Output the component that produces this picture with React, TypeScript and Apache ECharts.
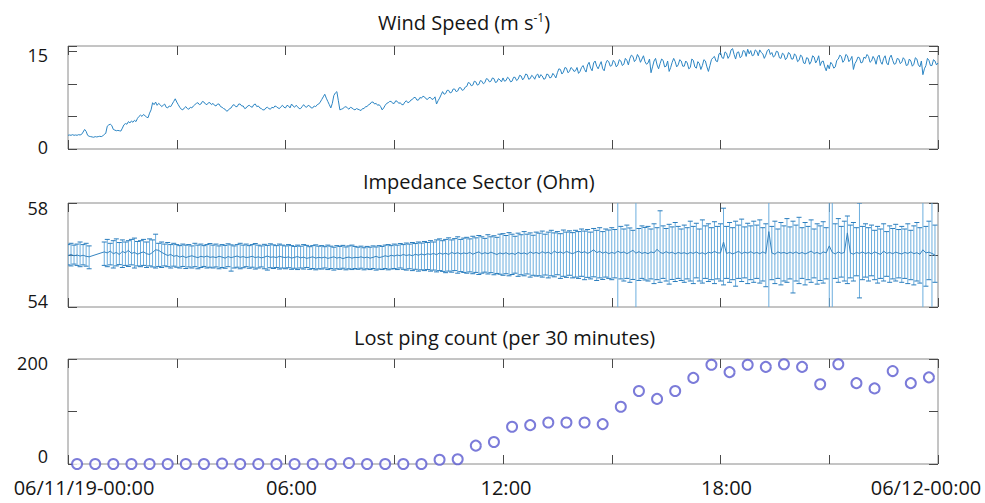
import React, { useEffect, useRef } from 'react';
import * as echarts from 'echarts';

const FONT = '"Open Sans", "Noto Sans", sans-serif';

// Panel titles
const panelTitles = ['Wind Speed (m s{sup|-1})', 'Impedance Sector (Ohm)', 'Lost ping count (per 30 minutes)'];

// x-axis tick labels (hours since 06/11/19 00:00)
const xLabelHours = [0, 6, 12, 18, 24];
const xLabelTexts = ['06/11/19-00:00', '06:00', '12:00', '18:00', '06/12-00:00'];

// y-axis tick labels shown per panel
const windYLabels = [0, 15];
const impYLabels = [54, 58];
const pingYLabels = [0, 200];

// Wind speed, m/s, every 2.5 minutes from 00:00 to 24:00
const windSpeed = [
  2.1, 2.15, 2.1, 2.2, 2.1, 2.15, 2.1, 2.2, 2.15, 2.25, 2.6, 3.0, 2.7, 2.1, 1.95, 1.9, 1.85, 1.8, 1.9, 1.85, 1.9, 1.95, 1.9, 2.0,
  2.25, 2.4, 3.5, 3.7, 3.8, 3.6, 3.0, 2.9, 2.8, 2.85, 2.8, 2.75, 3.2, 3.7, 3.9, 3.8, 4.2, 4.0, 4.3, 4.1, 4.4, 4.2, 4.7, 5.0,
  5.2, 5.0, 5.3, 5.1, 4.9, 4.8, 5.5, 6.0, 7.1, 6.8, 7.2, 6.7, 7.0, 6.8, 6.5, 6.7, 6.9, 6.4, 6.3, 6.6, 6.5, 6.9, 7.3, 7.7,
  7.2, 6.8, 6.4, 6.1, 6.0, 6.3, 6.5, 6.2, 6.1, 6.4, 6.3, 6.6, 6.8, 7.0, 7.1, 6.8, 6.9, 7.3, 7.2, 6.9, 6.8, 7.1, 7.1, 6.8,
  7.0, 6.7, 6.6, 6.9, 6.9, 6.5, 6.4, 6.2, 6.1, 5.8, 5.9, 6.2, 6.3, 6.7, 6.8, 6.5, 6.5, 6.9, 6.9, 6.6, 6.6, 6.2, 6.3, 6.6,
  6.7, 6.5, 6.4, 6.8, 6.9, 6.5, 6.6, 6.3, 6.2, 6.0, 6.0, 6.3, 6.4, 6.2, 6.1, 6.4, 6.3, 6.6, 6.5, 6.3, 6.2, 6.5, 6.7, 6.4,
  6.3, 6.7, 6.6, 6.3, 6.9, 6.6, 6.4, 6.7, 6.5, 6.2, 6.2, 6.5, 6.8, 6.5, 6.4, 6.7, 6.6, 6.3, 6.3, 6.6, 6.5, 6.8, 6.9, 7.2,
  7.6, 8.0, 8.4, 7.8, 7.3, 6.8, 6.3, 7.0, 8.2, 8.6, 8.8, 7.4, 6.0, 6.1, 6.2, 6.4, 6.5, 6.3, 6.1, 6.4, 6.3, 6.1, 6.0, 6.2,
  6.1, 6.0, 5.9, 6.2, 6.2, 6.5, 6.5, 6.8, 6.9, 7.2, 7.2, 6.9, 7.0, 6.7, 6.8, 6.5, 6.0, 6.3, 6.7, 7.0, 7.1, 7.3, 7.3, 7.0,
  7.0, 7.4, 7.3, 7.0, 7.1, 6.8, 6.8, 7.2, 7.4, 7.1, 7.2, 7.5, 7.6, 7.9, 7.9, 7.5, 7.5, 7.9, 7.8, 8.1, 8.0, 7.7, 7.6, 7.9,
  7.9, 7.6, 7.7, 8.0, 6.9, 7.4, 7.8, 8.3, 8.8, 8.4, 8.5, 9.0, 9.0, 8.6, 8.7, 9.2, 9.2, 8.8, 8.9, 9.4, 9.4, 9.0, 9.1, 9.5,
  9.6, 10.2, 10.1, 9.7, 9.8, 10.4, 10.3, 9.8, 9.9, 10.5, 10.4, 10.0, 10.2, 10.8, 10.7, 10.3, 10.4, 10.9, 10.8, 10.2, 10.3, 10.8, 10.6, 10.3,
  10.9, 10.4, 10.5, 11.0, 10.8, 10.3, 10.4, 11.0, 11.0, 10.5, 10.7, 11.3, 11.2, 10.6, 10.9, 11.5, 11.4, 10.7, 10.8, 11.3, 11.1, 10.7, 11.3, 11.5,
  10.9, 11.4, 11.2, 10.7, 10.8, 11.5, 11.4, 10.9, 11.0, 11.6, 11.3, 10.9, 11.7, 12.3, 12.2, 11.5, 11.8, 12.5, 12.4, 11.7, 11.9, 12.5, 12.3, 11.9,
  12.0, 12.5, 11.6, 11.9, 12.5, 12.8, 12.2, 11.8, 12.9, 13.3, 12.4, 12.0, 13.2, 13.5, 12.7, 12.3, 12.9, 13.4, 12.3, 12.0, 13.1, 13.6, 13.4, 12.7,
  12.8, 13.6, 13.3, 12.6, 12.9, 13.7, 13.5, 12.8, 13.0, 13.9, 13.6, 12.9, 13.9, 14.4, 14.2, 13.4, 13.7, 14.5, 14.1, 13.3, 13.8, 14.3, 13.4, 13.0,
  13.2, 13.8, 11.7, 12.6, 13.5, 13.9, 12.9, 12.3, 13.1, 13.8, 13.6, 12.6, 12.7, 13.5, 11.9, 12.5, 13.3, 13.9, 13.4, 12.6, 12.9, 13.7, 13.5, 12.7,
  12.7, 13.5, 13.2, 12.3, 12.5, 13.8, 13.6, 12.6, 12.4, 13.4, 13.1, 12.2, 12.8, 13.7, 13.5, 12.6, 11.9, 12.8, 13.7, 14.0, 14.2, 13.5, 13.4, 14.6,
  14.8, 14.0, 13.9, 14.9, 14.7, 13.9, 14.3, 15.2, 15.4, 14.5, 13.8, 14.8, 14.9, 14.0, 14.2, 15.1, 15.0, 14.2, 15.3, 14.6, 15.1, 14.3, 14.4, 15.2,
  15.0, 14.3, 15.2, 14.8, 14.6, 13.9, 14.4, 15.1, 15.3, 14.5, 14.8, 14.1, 14.3, 15.0, 14.9, 14.0, 13.9, 14.7, 14.5, 13.7, 14.0, 14.8, 14.6, 13.8,
  13.8, 14.6, 14.3, 13.4, 13.6, 14.4, 14.2, 13.2, 13.1, 14.0, 13.9, 13.0, 13.4, 14.3, 14.1, 13.2, 13.6, 14.3, 12.8, 13.4, 13.5, 12.6, 12.0, 12.9,
  12.3, 13.3, 13.0, 12.4, 12.6, 13.6, 13.8, 14.4, 14.2, 13.3, 13.6, 14.5, 14.3, 13.4, 13.7, 14.2, 12.2, 13.1, 13.5, 14.1, 14.0, 13.2, 13.3, 14.1,
  13.9, 14.5, 14.2, 13.3, 13.5, 14.2, 13.8, 13.0, 14.1, 14.4, 13.4, 13.0, 13.9, 14.3, 13.2, 12.9, 14.0, 14.4, 13.6, 13.0, 13.1, 13.9, 13.8, 13.1,
  13.3, 14.0, 13.7, 12.8, 12.9, 13.8, 13.5, 12.7, 13.0, 14.0, 13.8, 12.9, 12.6, 13.5, 11.4, 12.3, 12.8, 13.9, 13.6, 12.8, 12.8, 13.7, 13.5, 12.9,
  13.2,
];

// Impedance (Ohm), every 5 minutes: mean, upper and lower error limits (null = no data)
const impCenter = [
  55.98, 56.02, 55.97, 56.0, 55.96, 55.99, 55.95, 55.93, null, null, null, null,
  56.12, 56.08, 56.15, 56.05, 56.1, 56.02, 56.14, 56.08, 56.18, 56.06, 56.1, 56.03,
  56.08, 56.12, 56.05, 56.02, 56.1, 56.2, 56.18, 56.1, 56.04, 55.98, 56.02, 55.95,
  55.98, 55.92, 55.96, 55.9, 55.94, 55.97, 55.93, 55.9, 55.95, 55.92, 55.96, 55.91,
  55.93, 55.9, 55.95, 55.92, 55.88, 55.94, 55.9, 55.93, 55.96, 55.91, 55.94, 55.9,
  55.92, 55.95, 55.9, 55.93, 55.89, 55.92, 55.96, 55.91, 55.93, 55.9, 55.95, 55.92,
  55.9, 55.93, 55.88, 55.91, 55.94, 55.89, 55.92, 55.87, 55.9, 55.93, 55.88, 55.91,
  55.89, 55.92, 55.87, 55.9, 55.93, 55.88, 55.91, 55.86, 55.9, 55.92, 55.88, 55.91,
  55.9, 55.93, 55.89, 55.92, 55.88, 55.91, 55.95, 55.9, 55.93, 55.97, 55.94, 55.99,
  55.96, 56.0, 55.97, 56.02, 55.98, 56.01, 55.97, 56.03, 55.99, 56.04, 56.0, 56.05,
  56.02, 56.06, 56.01, 56.08, 56.03, 56.07, 56.02, 56.1, 56.05, 56.09, 56.04, 56.08,
  56.05, 56.1, 56.03, 56.08, 56.12, 56.04, 56.09, 56.05, 56.11, 56.06, 56.02, 56.08,
  56.04, 56.09, 56.03, 56.07, 56.02, 56.1, 56.05, 56.08, 56.03, 56.12, 56.06, 56.1,
  56.05, 56.13, 56.07, 56.11, 56.04, 56.15, 56.08, 56.12, 56.06, 56.14, 56.09, 56.05,
  56.1, 56.15, 56.08, 56.13, 56.06, 56.12, 56.2, 56.09, 56.14, 56.07, 56.12, 56.05,
  56.1, 56.06, 56.15, 56.08, 56.12, 56.05, 56.11, 56.18, 56.07, 56.13, 56.06, 56.1,
  56.05, 56.12, 56.08, 56.22, 56.1, 56.06, 56.13, 56.07, 56.11, 56.04, 56.1, 56.06,
  56.09, 56.04, 56.1, 56.06, 56.12, 56.05, 56.09, 56.03, 56.11, 56.07, 56.14, 56.08,
  56.08, 56.5, 56.06, 56.1, 56.04, 56.09, 56.14, 56.05, 56.11, 56.07, 56.13, 56.06,
  56.1, 56.05, 56.12, 56.06, 56.9, 56.08, 56.03, 56.12, 56.07, 56.1, 56.05, 56.11,
  56.06, 56.12, 56.05, 56.1, 56.04, 56.09, 56.15, 56.06, 56.1, 56.04, 56.12, 56.08,
  56.35, 56.1, 56.04, 56.12, 56.06, 56.1, 56.85, 56.08, 56.03, 56.1, 56.06, 56.12,
  56.05, 56.1, 56.04, 56.12, 56.07, 56.02, 56.15, 56.06, 56.1, 56.05, 56.11, 56.07,
  56.04, 56.1, 56.06, 56.12, 56.05, 56.09, 56.03, 56.2, 56.08, 56.11, 56.06, 56.0,
];

const impHigh = [
  56.4, 56.45, 56.38, 56.42, 56.5, 56.4, 56.45, 56.35, null, null, null, null,
  56.5, 56.6, 56.45, 56.55, 56.62, 56.48, 56.58, 56.5, 56.55, 56.6, 56.65, 56.52,
  56.55, 56.6, 56.5, 56.62, 56.58, 56.8, 56.45, 56.5, 56.42, 56.48, 56.4, 56.45,
  56.4, 56.36, 56.42, 56.38, 56.4, 56.35, 56.45, 56.38, 56.42, 56.36, 56.4, 56.44,
  56.38, 56.42, 56.35, 56.4, 56.37, 56.43, 56.39, 56.35, 56.4, 56.45, 56.38, 56.42,
  56.36, 56.4, 56.44, 56.38, 56.35, 56.41, 56.37, 56.43, 56.39, 56.36, 56.42, 56.38,
  56.35, 56.4, 56.36, 56.33, 56.38, 56.34, 56.4, 56.37, 56.32, 56.36, 56.39, 56.34,
  56.36, 56.32, 56.38, 56.34, 56.3, 56.36, 56.33, 56.37, 56.31, 56.35, 56.38, 56.33,
  56.3, 56.34, 56.28, 56.33, 56.3, 56.35, 56.31, 56.36, 56.33, 56.38, 56.4, 56.36,
  56.42, 56.38, 56.44, 56.4, 56.46, 56.42, 56.48, 56.44, 56.5, 56.46, 56.52, 56.48,
  56.55, 56.5, 56.58, 56.62, 56.55, 56.6, 56.66, 56.58, 56.63, 56.7, 56.6, 56.65,
  56.68, 56.62, 56.72, 56.66, 56.75, 56.7, 56.64, 56.78, 56.7, 56.74, 56.68, 56.8,
  56.82, 56.75, 56.86, 56.8, 56.72, 56.84, 56.78, 56.9, 56.8, 56.85, 56.76, 56.88,
  56.84, 56.92, 56.8, 56.88, 56.95, 56.85, 56.9, 56.82, 56.96, 56.88, 56.93, 56.86,
  56.95, 56.9, 57.0, 56.92, 56.98, 56.88, 57.02, 56.95, 57.05, 56.9, 57.0, 56.96,
  57.05, 56.98, 62, 57.1, 57.0, 57.15, 57.04, 56.95, 62, 57.02, 57.12, 57.06,
  57.1, 57.0, 57.2, 57.05, 57.7, 57.12, 57.02, 57.18, 57.08, 57.25, 57.1, 57.0,
  57.15, 57.05, 57.3, 57.1, 57.22, 57.0, 57.35, 57.12, 57.2, 57.05, 57.28, 57.1,
  57.2, 57.8, 57.1, 57.25, 57.05, 57.3, 57.15, 57.38, 57.08, 57.22, 57.12, 57.3,
  57.15, 57.35, 57.05, 57.2, 62, 57.1, 57.3, 57.0, 57.25, 57.12, 57.4, 57.08,
  57.3, 57.15, 57.45, 57.05, 57.25, 57.1, 57.35, 57.0, 57.2, 57.12, 57.28, 57.05,
  62, 62, 57.2, 57.4, 57.1, 57.3, 57.5, 57.15, 57.25, 57.05, 58.0, 57.1,
  57.2, 57.05, 57.15, 56.95, 57.1, 57.0, 57.2, 56.9, 57.12, 57.02, 57.18, 56.98,
  57.1, 57.0, 57.2, 56.95, 57.12, 57.25, 57.05, 62, 57.1, 57.3, 62, 57.15,
];

const impLow = [
  55.62, 55.58, 55.65, 55.6, 55.55, 55.62, 55.57, 55.47, null, null, null, null,
  55.6, 55.55, 55.62, 55.5, 55.58, 55.63, 55.52, 55.6, 55.56, 55.62, 55.5, 55.58,
  55.55, 55.6, 55.52, 55.58, 55.54, 55.5, 55.56, 55.52, 55.58, 55.55, 55.5, 55.57,
  55.53, 55.5, 55.56, 55.48, 55.54, 55.5, 55.55, 55.47, 55.52, 55.56, 55.5, 55.53,
  55.5, 55.54, 55.47, 55.52, 55.49, 55.55, 55.38, 55.5, 55.53, 55.47, 55.51, 55.55,
  55.49, 55.53, 55.46, 55.5, 55.54, 55.47, 55.42, 55.51, 55.48, 55.52, 55.46, 55.5,
  55.47, 55.51, 55.45, 55.49, 55.44, 55.5, 55.46, 55.52, 55.45, 55.48, 55.43, 55.47,
  55.46, 55.5, 55.44, 55.48, 55.42, 55.47, 55.45, 55.49, 55.43, 55.47, 55.44, 55.48,
  55.45, 55.49, 55.43, 55.47, 55.44, 55.48, 55.42, 55.46, 55.44, 55.48, 55.43, 55.46,
  55.48, 55.44, 55.5, 55.45, 55.42, 55.47, 55.4, 55.45, 55.38, 55.43, 55.4, 55.44,
  55.38, 55.42, 55.35, 55.4, 55.37, 55.32, 55.38, 55.34, 55.4, 55.3, 55.36, 55.33,
  55.3, 55.35, 55.28, 55.33, 55.25, 55.3, 55.34, 55.27, 55.32, 55.24, 55.29, 55.26,
  55.22, 55.28, 55.2, 55.25, 55.3, 55.18, 55.24, 55.2, 55.27, 55.15, 55.22, 55.19,
  55.2, 55.15, 55.23, 55.12, 55.2, 55.16, 55.24, 55.1, 55.18, 55.14, 55.22, 55.12,
  55.15, 55.1, 55.18, 55.05, 55.14, 55.08, 55.16, 55.02, 55.12, 55.06, 55.15, 55.1,
  55.05, 55.12, 50, 55.08, 55.0, 55.1, 54.95, 55.06, 50, 55.02, 55.1, 55.04,
  55.0, 55.08, 54.9, 55.05, 54.95, 55.1, 55.0, 54.88, 55.06, 54.98, 55.1, 55.02,
  54.95, 55.08, 55.0, 54.9, 55.12, 55.0, 54.92, 55.1, 54.98, 55.05, 54.9, 55.08,
  55.0, 54.85, 55.1, 54.95, 55.05, 54.8, 55.1, 54.98, 55.12, 54.9, 55.05, 54.95,
  55.1, 54.92, 55.0, 54.78, 50, 55.05, 54.9, 55.1, 54.85, 55.0, 54.95, 55.08,
  54.54, 55.0, 54.9, 55.1, 54.85, 55.05, 54.95, 55.12, 54.88, 55.02, 54.92, 55.08,
  50, 50, 55.1, 54.95, 55.15, 55.0, 54.9, 55.12, 55.0, 55.2, 54.35, 55.05,
  55.15, 55.0, 55.2, 55.05, 54.92, 55.1, 55.0, 55.18, 54.95, 55.08, 55.0, 55.12,
  54.95, 55.1, 54.9, 55.05, 54.85, 55.0, 54.92, 50, 54.8, 55.05, 50, 54.95,
];

// Lost ping count per 30-minute bin (bins centred at :15 and :45)
const lostPings = [
  0, 0, 0, 0, 0, 0, 0, 0, 1, 0, 0, 0, 0, 0, 0, 2, 0, 0, 0, 0, 8, 9, 35, 42,
  71, 74, 79, 79, 79, 76, 109, 139, 124, 139, 164, 189, 175, 189, 185, 190, 185, 152,
  190, 154, 144, 177, 154, 165,
];

const BOX = '#8a8a8a';
const TICK = '#4a4a4a';
const TXT = '#151515';

export default function App() {
  const ref = useRef<HTMLDivElement>(null);

  useEffect(() => {
    if (!ref.current) return;
    const chart = echarts.init(ref.current, null, { renderer: 'svg' });

    const windData = windSpeed.map((v, i) => [i / 24, v]);
    const ctrData: number[][] = [];
    const errData: number[][] = [];
    impCenter.forEach((c, i) => {
      if (c == null) return;
      ctrData.push([i / 12, c]);
      errData.push([i / 12, impLow[i] as number, impHigh[i] as number]);
    });
    const pingData = lostPings.map((v, i) => [0.25 + i * 0.5, v]);

    const grids = [
      { left: 68, right: 47, top: 46, height: 103 },
      { left: 68, right: 47, top: 203, height: 104 },
      { left: 68, right: 47, top: 359, height: 105 },
    ];
    const yCfg = [
      { min: 0, max: 15.8, interval: 5, labels: windYLabels, pads: [[0, 0, 4, 0], [8, 0, 0, 0]] },
      { min: 54, max: 58, interval: 2, labels: impYLabels, pads: [[0, 0, 12, 0], [10, 0, 0, 0]] },
      { min: 0, max: 200, interval: 100, labels: pingYLabels, pads: [[0, 0, 16, 0], [8, 0, 0, 0]] },
    ];
    const xPads = [[0, 0, 0, 32], [0, 0, 0, 12], [0, 0, 0, 6], [0, 0, 0, 12], [0, 24, 0, 0]];

    const tickStyle = () => ({ show: true, inside: true, length: 9, lineStyle: { color: TICK, width: 1 } });
    const noLine = () => ({ show: false, onZero: false });

    const xAxes: any[] = [];
    const yAxes: any[] = [];
    grids.forEach((_, g) => {
      ['bottom', 'top'].forEach((pos) => {
        const showLabels = g === 2 && pos === 'bottom';
        const rich: any = {};
        xPads.forEach((p, k) => {
          rich['x' + k] = { fontSize: 20, fontFamily: FONT, color: TXT, padding: p };
        });
        xAxes.push({
          type: 'value', gridIndex: g, position: pos, min: 0, max: 24, interval: 3,
          axisLine: noLine(), splitLine: { show: false }, axisTick: tickStyle(),
          axisLabel: showLabels
            ? {
                show: true, margin: 13, fontSize: 20, fontFamily: FONT, color: TXT,
                formatter: (v: number) => {
                  const k = xLabelHours.indexOf(v);
                  return k < 0 ? '' : `{x${k}|${xLabelTexts[k]}}`;
                },
                rich,
              }
            : { show: false },
        });
      });
      ['left', 'right'].forEach((pos) => {
        const c = yCfg[g];
        const showLabels = pos === 'left';
        yAxes.push({
          type: 'value', gridIndex: g, position: pos, min: c.min, max: c.max, interval: c.interval,
          axisLine: noLine(), splitLine: { show: false }, axisTick: tickStyle(),
          axisLabel: showLabels
            ? {
                show: true, margin: 20, fontSize: 18, fontFamily: FONT, color: TXT,
                formatter: (v: number) => {
                  const k = c.labels.indexOf(v);
                  return k < 0 ? '' : `{y${k}|${v}}`;
                },
                rich: {
                  y0: { fontSize: 18, fontFamily: FONT, color: TXT, padding: c.pads[0] },
                  y1: { fontSize: 18, fontFamily: FONT, color: TXT, padding: c.pads[1] },
                },
              }
            : { show: false },
        });
      });
    });

    const titleLeft = [378, 363, 354];
    const titleTop = [11, 171, 327];

    chart.setOption({
      animation: false,
      backgroundColor: '#ffffff',
      title: panelTitles.map((t, i) => ({
        text: t, left: titleLeft[i], top: titleTop[i], padding: 0,
        textStyle: {
          fontSize: 20, fontFamily: FONT, fontWeight: 'normal', color: TXT,
          rich: { sup: { fontSize: 12, fontFamily: FONT, color: TXT, padding: [0, 0, 10, 0] } },
        },
      })),
      grid: grids.map((g) => ({ ...g, show: true, borderColor: BOX, borderWidth: 1, backgroundColor: 'transparent' })),
      xAxis: xAxes,
      yAxis: yAxes,
      series: [
        {
          type: 'line', xAxisIndex: 0, yAxisIndex: 0, data: windData, showSymbol: false,
          lineStyle: { color: '#2c85c3', width: 1 }, clip: true,
        },
        {
          type: 'custom', xAxisIndex: 2, yAxisIndex: 2, data: errData, clip: true,
          encode: { x: 0, y: [1, 2] },
          renderItem: (_p: any, api: any) => {
            const x = api.value(0);
            const a = api.coord([x, api.value(1)]);
            const b = api.coord([x, api.value(2)]);
            const w = 2.5;
            return {
              type: 'group',
              children: [
                { type: 'line', shape: { x1: a[0], y1: a[1], x2: b[0], y2: b[1] }, style: { stroke: '#6caede', lineWidth: 1 } },
                { type: 'line', shape: { x1: a[0] - w, y1: a[1], x2: a[0] + w, y2: a[1] }, style: { stroke: '#2a7dbd', lineWidth: 1 } },
                { type: 'line', shape: { x1: b[0] - w, y1: b[1], x2: b[0] + w, y2: b[1] }, style: { stroke: '#2a7dbd', lineWidth: 1 } },
              ],
            };
          },
        },
        {
          type: 'line', xAxisIndex: 2, yAxisIndex: 2, data: ctrData, showSymbol: false,
          lineStyle: { color: '#3584c0', width: 1 }, z: 5,
        },
        {
          type: 'scatter', xAxisIndex: 4, yAxisIndex: 4, data: pingData, symbol: 'emptyCircle', symbolSize: 10,
          itemStyle: { color: '#5a5ad0', borderColor: '#5a5ad0', borderWidth: 1.2 }, clip: false,
        },
      ],
    });

    return () => chart.dispose();
  }, []);

  return <div ref={ref} style={{ position: 'fixed', left: 0, top: 0, width: 985, height: 503, background: '#fff' }} />;
}
